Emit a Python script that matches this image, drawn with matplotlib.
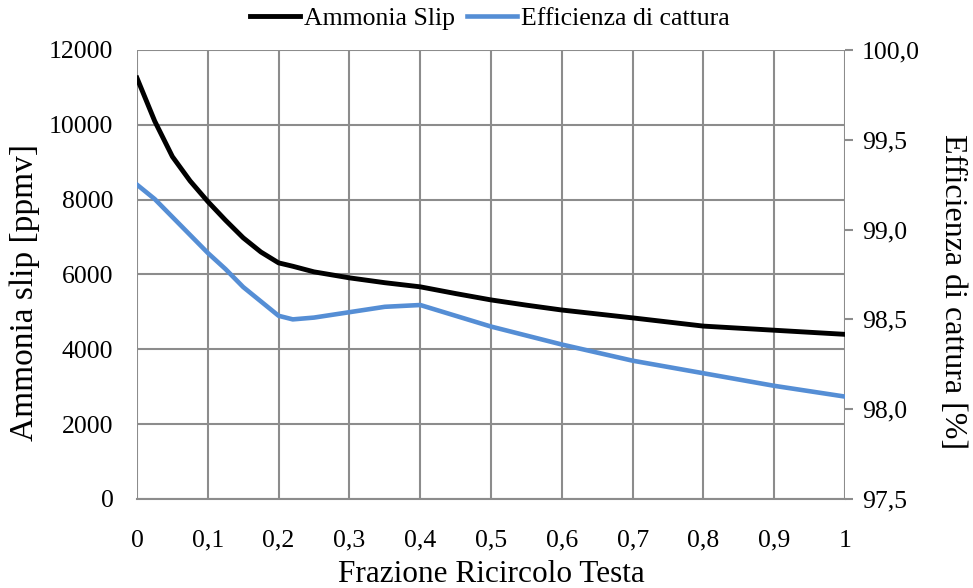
import numpy as np
import matplotlib.pyplot as plt
from matplotlib.ticker import FuncFormatter

plt.rcParams['font.family'] = ['Liberation Serif', 'DejaVu Serif']

# Frazione di ricircolo in testa
frazione = [0.0, 0.025, 0.05, 0.075, 0.1, 0.125, 0.15, 0.175, 0.2, 0.22, 0.25, 0.3, 0.35,
            0.4, 0.45, 0.5, 0.55, 0.6, 0.7, 0.8, 0.9, 1.0]
# Ammonia slip [ppmv]
ammonia_slip = [11250, 10100, 9150, 8500, 7950, 7450, 6980, 6600, 6310, 6220, 6070, 5910, 5780,
                5670, 5490, 5320, 5180, 5050, 4840, 4620, 4510, 4400]
# Efficienza di cattura [%]
efficienza = [99.25, 99.17, 99.07, 98.97, 98.87, 98.78, 98.68, 98.60, 98.52, 98.50, 98.51, 98.54, 98.57,
              98.58, 98.52, 98.46, 98.41, 98.36, 98.27, 98.20, 98.13, 98.07]

x_ticks = np.round(np.arange(0, 1.01, 0.1), 1)
left_ticks = np.arange(0, 12001, 2000)
right_ticks = np.arange(97.5, 100.01, 0.5)

grid_col = '#8c8c8c'
fs = 18.5

fig = plt.figure(figsize=(9.73, 5.88), dpi=100)
ax = fig.add_axes([0.1408, 0.1514, 0.7277, 0.7636])
ax2 = ax.twinx()

l1, = ax.plot(frazione, ammonia_slip, color='black', lw=3.5, label='Ammonia Slip',
              solid_joinstyle='round')
l2, = ax2.plot(frazione, efficienza, color='#558ed5', lw=3.3, label='Efficienza di cattura',
               solid_joinstyle='round')

ax.set_xlim(0, 1)
ax.set_ylim(0, 12000)
ax2.set_ylim(97.5, 100.0)
ax.set_xticks(x_ticks)
ax.set_yticks(left_ticks)
ax2.set_yticks(right_ticks)

ax.xaxis.set_major_formatter(FuncFormatter(lambda v, p: f'{v:g}'.replace('.', ',')))
ax2.yaxis.set_major_formatter(FuncFormatter(lambda v, p: f'{v:.1f}'.replace('.', ',')))

ax.grid(True, color=grid_col, lw=1.5)
ax.set_axisbelow(True)
for a in (ax, ax2):
    for s in a.spines.values():
        s.set_visible(False)
ax.spines['bottom'].set_visible(True)
ax.spines['bottom'].set_color(grid_col)
ax.spines['bottom'].set_linewidth(1.5)

ax.tick_params(axis='x', length=0, pad=22, labelsize=fs)
ax.tick_params(axis='y', length=0, pad=17, labelsize=fs)
ax2.tick_params(axis='y', length=6, width=1.5, color=grid_col, pad=6, labelsize=fs)

ax.set_xlabel('Frazione Ricircolo Testa', fontsize=22.5, labelpad=6)
ax.set_ylabel('Ammonia slip [ppmv]', fontsize=24)
ax2.set_ylabel('Efficienza di cattura [%]', fontsize=23, rotation=270)
ax.yaxis.set_label_coords(-0.137, 0.459)
ax2.yaxis.set_label_coords(1.172, 0.463)

fig.legend(handles=[l1, l2], loc='center', bbox_to_anchor=(0.5036, 0.969), ncol=2,
           frameon=False, fontsize=18.5, handlelength=1.95, handletextpad=0.15,
           columnspacing=0.45, borderpad=0)

fig.savefig('out.png', dpi=100)
